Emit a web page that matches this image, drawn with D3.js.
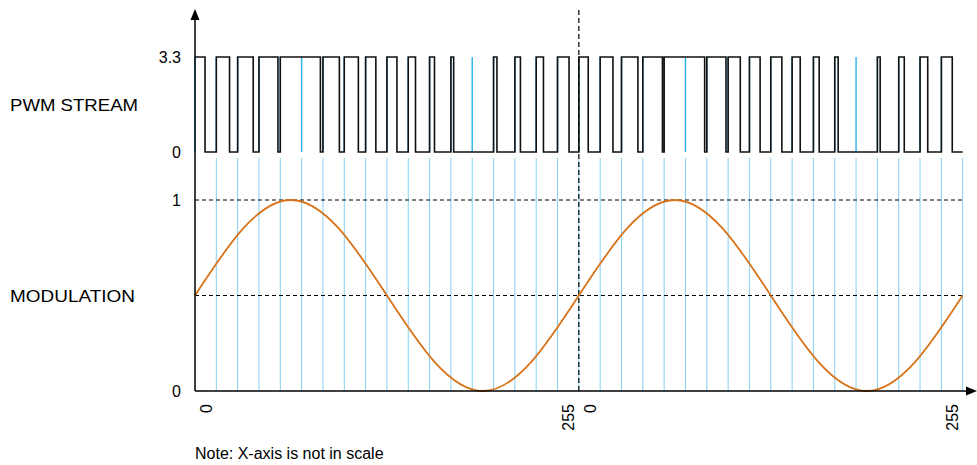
<!DOCTYPE html>
<html>
<head>
<meta charset="utf-8">
<script src="https://cdn.jsdelivr.net/npm/d3@7"></script>
<style>
  body { margin: 0; background: #fff; }
  svg { display: block; font-family: "Liberation Sans", Arial, sans-serif; }
</style>
</head>
<body>
<svg id="chart" width="977" height="465"></svg>
<script>
// ---- data ----
const periods = d3.range(36);                 // PWM periods (x categories)
const dutyCycle = [0.47, 0.62, 0.73, 0.89, 1.00, 0.88, 0.77, 0.66, 0.48,
                   0.47, 0.34, 0.23, 0.13, 0.00, 0.16, 0.26, 0.34, 0.54,
                   0.44, 0.60, 0.77, 0.92, 1.00, 0.90, 0.90, 0.57, 0.50,
                   0.52, 0.38, 0.27, 0.16, 0.00, 0.13, 0.26, 0.36, 0.51];
// modulation curve sample points: [period position, value]
const modT   = [0, 2.25, 4.5, 6.75, 9, 11.25, 13.5, 15.75, 18, 20.25, 22.5, 24.75, 27, 29.25, 31.5, 33.75, 36];
const modVal = [0.5, 0.85, 1.0, 0.85, 0.5, 0.15, 0.0, 0.15, 0.5, 0.85, 1.0, 0.85, 0.5, 0.15, 0.0, 0.15, 0.5];
const xTickPos    = [0.5, 17.5, 18.5, 35.5];
const xTickLabels = ["0", "255", "0", "255"];
const pwmTicks = [0, 3.3];
const modTicks = [0, 1];
const modRefLines = [0.5, 1];
const pwmHigh = 3.3;

// ---- scales ----
const svg = d3.select("#chart");
const x = d3.scaleLinear().domain([0, 36]).range([195, 962.7]);
const yP = d3.scaleLinear().domain([0, 3.3]).range([152, 57]);
const yM = d3.scaleLinear().domain([0, 1]).range([391, 200]);

// ---- blue period lines ----
svg.append("g").selectAll("line").data(periods).join("line")
  .attr("x1", d => x(d)).attr("x2", d => x(d))
  .attr("y1", yP(pwmHigh)).attr("y2", yP(0))
  .attr("stroke", "#27b2ee").attr("stroke-width", 1.4);
svg.append("g").selectAll("line").data(d3.range(1, 37)).join("line")
  .attr("x1", d => x(d)).attr("x2", d => x(d))
  .attr("y1", 158).attr("y2", yM(0))
  .attr("stroke", "#86d0f2").attr("stroke-width", 1);

// ---- dashed reference lines ----
svg.append("g").selectAll("line").data(modRefLines).join("line")
  .attr("x1", x(0)).attr("x2", x(36))
  .attr("y1", d => yM(d)).attr("y2", d => yM(d))
  .attr("stroke", "#000").attr("stroke-width", 1).attr("stroke-dasharray", "4,3");
svg.append("line")
  .attr("x1", x(18)).attr("x2", x(18)).attr("y1", 10).attr("y2", yM(0))
  .attr("stroke", "#000").attr("stroke-width", 1.2).attr("stroke-dasharray", "5,3");

// ---- PWM trace ----
const pwmPts = [];
periods.forEach((p, i) => {
  const d = dutyCycle[i];
  pwmPts.push([p, d > 0 ? pwmHigh : 0]);
  if (d > 0 && d < 1) pwmPts.push([p + d, 0]);
});
pwmPts.push([36, 0]);
svg.append("path")
  .attr("d", d3.line().x(d => x(d[0])).y(d => yP(d[1])).curve(d3.curveStepAfter)(pwmPts))
  .attr("fill", "none").attr("stroke", "#111").attr("stroke-width", 1.6);

// ---- modulation curve ----
svg.append("path")
  .attr("d", d3.line().x((d, i) => x(modT[i])).y(d => yM(d)).curve(d3.curveNatural)(modVal))
  .attr("fill", "none").attr("stroke", "#d8731a").attr("stroke-width", 1.8);

// ---- axes ----
svg.append("line").attr("x1", 195).attr("x2", 195).attr("y1", 18).attr("y2", yM(0))
  .attr("stroke", "#000").attr("stroke-width", 1.5);
svg.append("path").attr("d", "M195,9 L190.5,20 L199.5,20 Z").attr("fill", "#000");
svg.append("line").attr("x1", 195).attr("x2", 968).attr("y1", yM(0)).attr("y2", yM(0))
  .attr("stroke", "#000").attr("stroke-width", 1.5);
svg.append("path").attr("d", `M977,${yM(0)} L966,${yM(0) - 4.5} L966,${yM(0) + 4.5} Z`).attr("fill", "#000");

const fontSize = "16px";
const gP = svg.append("g").attr("transform", "translate(195,0)")
  .call(d3.axisLeft(yP).tickValues(pwmTicks).tickFormat(d => d === 0 ? "0" : "3.3").tickSize(0).tickPadding(14));
const gM = svg.append("g").attr("transform", "translate(195,0)")
  .call(d3.axisLeft(yM).tickValues(modTicks).tickFormat(d3.format("d")).tickSize(0).tickPadding(14));
const gX = svg.append("g").attr("transform", `translate(0,${yM(0)})`)
  .call(d3.axisBottom(x).tickValues(xTickPos).tickFormat((d, i) => xTickLabels[i]).tickSize(0));
[gP, gM, gX].forEach(g => {
  g.select(".domain").remove();
  g.selectAll("text").attr("font-size", fontSize).attr("fill", "#000")
    .attr("font-family", "Liberation Sans, Arial, sans-serif");
});
gX.selectAll("text")
  .attr("transform", "rotate(-90)")
  .attr("text-anchor", "end")
  .attr("x", -13).attr("y", 0).attr("dy", "0.35em");

// ---- labels ----
svg.append("text").attr("x", 10).attr("y", 105).attr("dy", "0.35em")
  .attr("font-size", "17px").attr("textLength", 128).attr("lengthAdjust", "spacingAndGlyphs")
  .text("PWM STREAM");
svg.append("text").attr("x", 10).attr("y", 296).attr("dy", "0.35em")
  .attr("font-size", "17px").attr("textLength", 125).attr("lengthAdjust", "spacingAndGlyphs")
  .text("MODULATION");
svg.append("text").attr("x", 195).attr("y", 459)
  .attr("font-size", fontSize).text("Note: X-axis is not in scale");
</script>
</body>
</html>
